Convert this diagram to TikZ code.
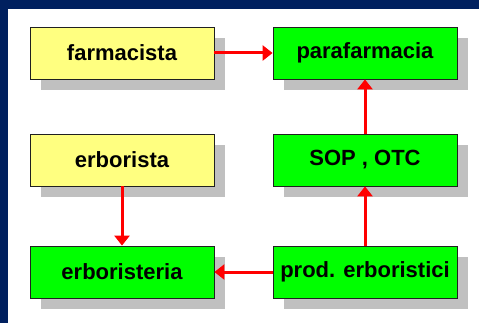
\documentclass[tikz,border=0pt]{standalone}
\usepackage{fontspec}
\setmainfont{Liberation Sans}
\usepackage{tikz}
\usetikzlibrary{arrows.meta,shadows}
\definecolor{framenavy}{HTML}{00205F}
\definecolor{boxyellow}{HTML}{FFFF80}
\definecolor{boxgreen}{HTML}{00FF00}
\definecolor{boxline}{HTML}{202020}
\definecolor{shadowgray}{HTML}{C0C0C0}

\begin{document}
\begin{tikzpicture}[x=1pt,y=-1pt,>={Triangle[length=10pt,width=15pt]}]
  \tikzstyle{box}=[draw=boxline,line width=0.8pt,minimum width=184pt,minimum height=52pt,
    font=\bfseries\fontsize{22}{24}\selectfont,
    drop shadow={shadow xshift=11pt,shadow yshift=-11pt,fill=shadowgray,opacity=1}]
  \tikzstyle{person}=[box,fill=boxyellow]
  \tikzstyle{place}=[box,fill=boxgreen]
  \tikzstyle{link}=[->,draw=red,line width=3pt]

  % frame
  \useasboundingbox (0,0) rectangle (479,323);
  \fill[framenavy] (0,0) rectangle (479,323);
  \fill[white] (8,9) rectangle (479,323);

  % left column
  \node[person] (farm) at (122,53) {farmacista};
  \node[person] (erba) at (122,160) {erborista};
  \node[place] (erbt) at (122,272) {erboristeria};

  % right column
  \node[place] (para) at (365,53) {parafarmacia};
  \node[place] (sop) at (365,160) {SOP , OTC};
  \node[place] (prod) at (365,272) {prod. erboristici};

  \draw[link] (farm) -- (para);
  \draw[link] (sop) -- (para);
  \draw[link] (prod) -- (sop);
  \draw[link] (prod) -- (erbt);
  \draw[link] (erba) -- (erbt);
\end{tikzpicture}
\end{document}
